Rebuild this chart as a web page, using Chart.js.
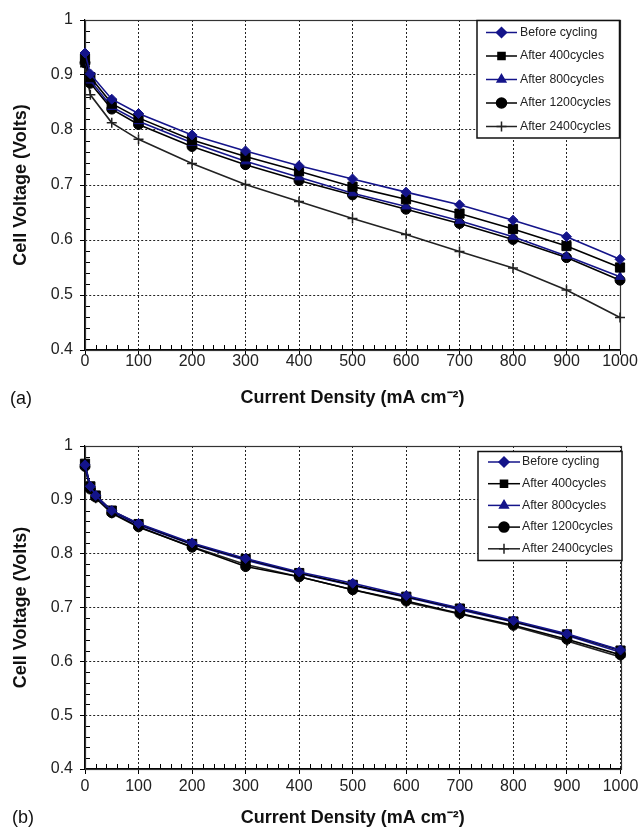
<!DOCTYPE html>
<html lang="en">
<head>
<meta charset="UTF-8">
<title>Cell Voltage vs Current Density</title>
<script src="https://cdn.jsdelivr.net/npm/chart.js"></script>
<style>
    body { margin: 0; background: #fff; }
    #wrap { position: relative; width: 643px; height: 829px; font-family: 'Liberation Sans', Arial, sans-serif; }
    canvas { position: absolute; left: 0; }
    .panel { position: absolute; font-size: 18px; line-height: 18px; color: #111; }
</style>
</head>
<body>
<div id="wrap">
    <canvas id="chartA" width="643" height="414" style="top:0"></canvas>
    <canvas id="chartB" width="643" height="415" style="top:414px"></canvas>
    <div class="panel" style="left:10px;top:389px">(a)</div>
    <div class="panel" style="left:12px;top:808px">(b)</div>
</div>
<script>
// panel (a)
const currentA = [0, 10, 50, 100, 200, 300, 400, 500, 600, 700, 800, 900, 1000];
const beforeA = [0.940, 0.902, 0.856, 0.830, 0.791, 0.762, 0.735, 0.711, 0.687, 0.664, 0.636, 0.606, 0.565];
const after400A = [0.930, 0.896, 0.848, 0.822, 0.782, 0.752, 0.725, 0.697, 0.674, 0.648, 0.620, 0.589, 0.550];
const after800A = [0.928, 0.890, 0.842, 0.816, 0.777, 0.743, 0.714, 0.685, 0.661, 0.635, 0.606, 0.571, 0.533];
const after1200A = [0.922, 0.885, 0.838, 0.810, 0.770, 0.737, 0.708, 0.682, 0.656, 0.630, 0.601, 0.568, 0.527];
const after2400A = [0.915, 0.864, 0.813, 0.783, 0.739, 0.701, 0.670, 0.639, 0.610, 0.579, 0.549, 0.509, 0.459];

// panel (b)
const currentB = [0, 10, 20, 50, 100, 200, 300, 400, 500, 600, 700, 800, 900, 1000];
const beforeB = [0.965, 0.925, 0.908, 0.880, 0.856, 0.820, 0.791, 0.766, 0.745, 0.722, 0.699, 0.676, 0.651, 0.621];
const after400B = [0.967, 0.925, 0.908, 0.880, 0.855, 0.818, 0.790, 0.764, 0.742, 0.720, 0.698, 0.674, 0.650, 0.620];
const after800B = [0.963, 0.923, 0.906, 0.878, 0.853, 0.817, 0.788, 0.763, 0.741, 0.719, 0.696, 0.673, 0.648, 0.617];
const after1200B = [0.962, 0.920, 0.905, 0.876, 0.850, 0.812, 0.776, 0.757, 0.733, 0.712, 0.689, 0.667, 0.641, 0.612];
const after2400B = [0.960, 0.920, 0.903, 0.875, 0.849, 0.813, 0.780, 0.757, 0.733, 0.710, 0.688, 0.665, 0.638, 0.608];

const seriesLabels = ['Before cycling', 'After 400cycles', 'After 800cycles', 'After 1200cycles', 'After 2400cycles'];
const yTicks = [0.4, 0.5, 0.6, 0.7, 0.8, 0.9, 1];

const BLUE = '#14148a';
const BLACK = '#000000';
const FONT = "'Liberation Sans', Arial, sans-serif";
const styles = [
    { color: BLUE, pointStyle: 'rectRot', radius: 5 },
    { color: BLACK, pointStyle: 'rect', radius: 6.5 },
    { color: BLUE, pointStyle: 'triangle', radius: 5 },
    { color: BLACK, pointStyle: 'circle', radius: 5 },
    { color: '#222', pointStyle: 'cross', radius: 5 }
];

function makeDatasets(xs, lists) {
    return lists.map((ys, k) => ({
        label: seriesLabels[k],
        data: xs.map((x, i) => ({ x: x, y: ys[i] })),
        borderColor: styles[k].color,
        backgroundColor: styles[k].color,
        pointBackgroundColor: styles[k].color,
        pointBorderColor: styles[k].color,
        pointStyle: styles[k].pointStyle,
        pointRadius: styles[k].radius,
        pointBorderWidth: k === 4 ? 1.5 : 1,
        borderWidth: 1.6,
        tension: 0,
        clip: false
    }));
}

// frame, inward minor ticks and boxed legend
const decorations = {
    id: 'decorations',
    beforeDatasetsDraw(chart) {
        const { ctx, chartArea: a, scales: { x, y } } = chart;
        ctx.save();
        ctx.strokeStyle = '#000';
        ctx.lineWidth = 1;
        ctx.beginPath();
        for (let i = 1; i < 50; i++) {
            if (i % 5 === 0) continue;
            const px = Math.round(x.getPixelForValue(i * 20)) + 0.5;
            ctx.moveTo(px, a.bottom);
            ctx.lineTo(px, a.bottom - 5);
        }
        for (let i = 1; i < 30; i++) {
            if (i % 5 === 0) continue;
            const py = Math.round(y.getPixelForValue(0.4 + i * 0.02)) + 0.5;
            ctx.moveTo(a.left, py);
            ctx.lineTo(a.left + 5, py);
        }
        ctx.stroke();
        ctx.lineWidth = 1.2;
        ctx.strokeStyle = '#333';
        ctx.strokeRect(Math.round(a.left) + 0.5, Math.round(a.top) + 0.5, Math.round(a.right - a.left), Math.round(a.bottom - a.top));
        ctx.restore();
    },
    afterDraw(chart, args, opts) {
        const ctx = chart.ctx;
        const b = opts.box;
        ctx.save();
        ctx.fillStyle = '#fff';
        ctx.fillRect(b.left, b.top, b.width, b.height);
        ctx.strokeStyle = '#111';
        ctx.lineWidth = 1.5;
        ctx.strokeRect(b.left, b.top, b.width, b.height);
        ctx.font = '12.3px ' + FONT;
        ctx.textBaseline = 'middle';
        chart.data.datasets.forEach((ds, k) => {
            const yy = b.top + opts.firstRow + k * opts.rowGap;
            ctx.strokeStyle = ds.borderColor;
            ctx.fillStyle = ds.borderColor;
            ctx.lineWidth = 1.5;
            ctx.beginPath();
            ctx.moveTo(opts.lineX1, yy);
            ctx.lineTo(opts.lineX2, yy);
            ctx.stroke();
            Chart.helpers.drawPoint(ctx, {
                pointStyle: ds.pointStyle,
                radius: Math.min(ds.pointRadius, 5),
                rotation: 0,
                borderWidth: ds.pointBorderWidth
            }, (opts.lineX1 + opts.lineX2) / 2, yy);
            ctx.fillStyle = '#222';
            ctx.fillText(ds.label, opts.textX, yy);
        });
        ctx.restore();
    }
};

function buildChart(id, xs, lists, cfg) {
    return new Chart(document.getElementById(id), {
        type: 'line',
        data: { datasets: makeDatasets(xs, lists) },
        options: {
            responsive: false,
            animation: false,
            layout: { padding: { top: cfg.top, right: cfg.right, left: 0, bottom: 0 } },
            plugins: {
                legend: { display: false },
                tooltip: { enabled: false },
                decorations: cfg.legend
            },
            scales: {
                x: {
                    type: 'linear',
                    min: 0,
                    max: 1000,
                    afterFit: (s) => { s.height = cfg.xHeight; },
                    ticks: {
                        stepSize: 100,
                        color: '#222',
                        padding: cfg.xTickPad,
                        maxRotation: 0,
                        font: { family: FONT, size: 16, lineHeight: 1 },
                        callback: (v) => String(v)
                    },
                    grid: { color: '#222', lineWidth: 1, tickLength: 5, tickColor: '#000' },
                    border: { display: true, color: '#000', width: 1.2, dash: [2, 2] },
                    title: {
                        display: true,
                        text: 'Current Density (mA cm⁻²)',
                        color: '#111',
                        font: { family: FONT, size: 18, weight: 'bold', lineHeight: 1.2 },
                        padding: { top: 0, bottom: cfg.xTitlePad }
                    }
                },
                y: {
                    min: 0.4,
                    max: 1,
                    afterFit: (s) => { s.width = 85; },
                    afterBuildTicks: (s) => { s.ticks = yTicks.map(v => ({ value: v })); },
                    ticks: {
                        color: '#222',
                        padding: 7,
                        font: { family: FONT, size: 16 },
                        callback: (v) => String(Math.round(v * 10) / 10)
                    },
                    grid: { color: '#222', lineWidth: 1, tickLength: 5, tickColor: '#000' },
                    border: { display: true, color: '#000', width: 1.2, dash: [2, 2] },
                    title: {
                        display: true,
                        text: 'Cell Voltage (Volts)',
                        color: '#111',
                        font: { family: FONT, size: 18, weight: 'bold', lineHeight: 1.2 },
                        padding: { top: 10, bottom: 0 }
                    }
                }
            }
        },
        plugins: [decorations]
    });
}

buildChart('chartA', currentA, [beforeA, after400A, after800A, after1200A, after2400A], {
    top: 20, right: 23, xHeight: 64, xTickPad: -1, xTitlePad: 5,
    legend: {
        box: { left: 477, top: 20.5, width: 142.5, height: 117.5 },
        firstRow: 12, rowGap: 23.5, lineX1: 486, lineX2: 517, textX: 520
    }
});

buildChart('chartB', currentB, [beforeB, after400B, after800B, after1200B, after2400B], {
    top: 32, right: 21, xHeight: 60, xTickPad: 4.7, xTitlePad: 0,
    legend: {
        box: { left: 478, top: 37.5, width: 144, height: 109 },
        firstRow: 10.5, rowGap: 21.7, lineX1: 488, lineX2: 520, textX: 522
    }
});
</script>
</body>
</html>
